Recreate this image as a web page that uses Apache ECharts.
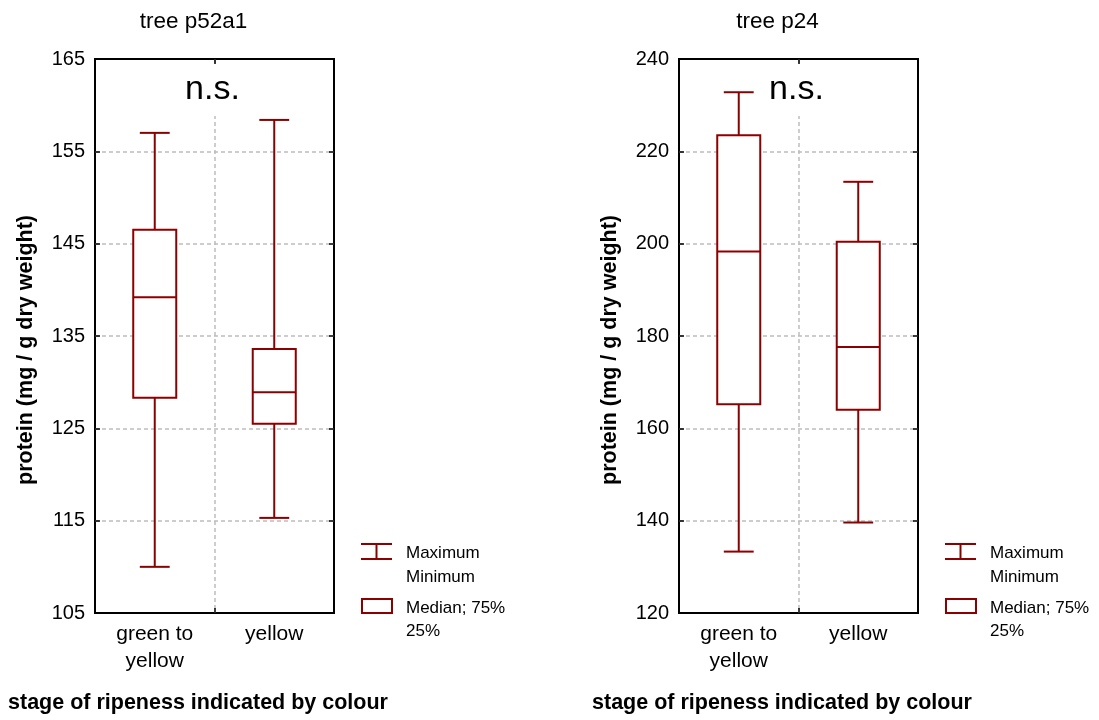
<!DOCTYPE html>
<html>
<head>
<meta charset="utf-8">
<script src="https://cdn.jsdelivr.net/npm/echarts@6/dist/echarts.min.js"></script>
<style>html,body{margin:0;padding:0;background:#fff}#c{width:1099px;height:720px}</style>
</head>
<body>
<div id="c"></div>
<script>
// ---- data ----
const categories = ['green to\nyellow', 'yellow'];
const panelTitles = ['tree p52a1', 'tree p24'];
// tree p52a1
const p52a1Min = [110.0, 115.3];
const p52a1Q1 = [128.3, 125.5];
const p52a1Median = [139.2, 128.9];
const p52a1Q3 = [146.5, 133.6];
const p52a1Max = [157.0, 158.4];
// tree p24
const p24Min = [133.3, 139.6];
const p24Q1 = [165.2, 164.0];
const p24Median = [198.3, 177.6];
const p24Q3 = [223.5, 200.4];
const p24Max = [232.8, 213.4];
// axis ticks
const p52a1Ticks = [105, 115, 125, 135, 145, 155, 165];
const p24Ticks = [120, 140, 160, 180, 200, 220, 240];
const yAxisTitle = 'protein (mg / g dry weight)';
const xAxisTitle = 'stage of ripeness indicated by colour';
const sigLabel = 'n.s.';
const legendLabels = ['Maximum', 'Minimum', 'Median; 75%', '25%'];

// ---- style ----
const RED = '#8b0000';
const FONT = "'Liberation Sans', Arial, sans-serif";
const GRID_W = 239, GRID_TOP = 59, GRID_H = 554;
const grids = [{left: 95}, {left: 679}];

function rows(mn, q1, md, q3, mx) {
  return categories.map((_, i) => [i, mn[i], q1[i], md[i], q3[i], mx[i]]);
}
const panelData = [
  rows(p52a1Min, p52a1Q1, p52a1Median, p52a1Q3, p52a1Max),
  rows(p24Min, p24Q1, p24Median, p24Q3, p24Max)
];
const panelTicks = [p52a1Ticks, p24Ticks];

function renderBox(params, api) {
  const c = api.value(0);
  const lo = api.coord([c, api.value(1)]);
  const q1 = api.coord([c, api.value(2)]);
  const md = api.coord([c, api.value(3)]);
  const q3 = api.coord([c, api.value(4)]);
  const hi = api.coord([c, api.value(5)]);
  const band = api.size([1, 0])[0];
  const x = lo[0];
  const bw = band * 0.18, cw = band * 0.125;
  const st = {stroke: RED, lineWidth: 2, fill: null};
  return {type: 'group', children: [
    {type: 'line', shape: {x1: x, y1: hi[1], x2: x, y2: q3[1]}, style: st},
    {type: 'line', shape: {x1: x, y1: q1[1], x2: x, y2: lo[1]}, style: st},
    {type: 'line', shape: {x1: x - cw, y1: hi[1], x2: x + cw, y2: hi[1]}, style: st},
    {type: 'line', shape: {x1: x - cw, y1: lo[1], x2: x + cw, y2: lo[1]}, style: st},
    {type: 'rect', shape: {x: x - bw, y: q3[1], width: 2 * bw, height: q1[1] - q3[1]}, style: {stroke: RED, lineWidth: 2, fill: '#fff'}},
    {type: 'line', shape: {x1: x - bw, y1: md[1], x2: x + bw, y2: md[1]}, style: st}
  ]};
}

const split = {show: true, showMinLine: false, showMaxLine: false,
  lineStyle: {color: '#bdbdbd', width: 1.5, type: [4, 3]}};

const option = {
  backgroundColor: '#fff',
  animation: false,
  grid: grids.map(g => ({left: g.left, top: GRID_TOP, width: GRID_W, height: GRID_H,
    show: true, borderColor: '#000', borderWidth: 2, backgroundColor: '#fff'})),
  xAxis: [],
  yAxis: [],
  series: [],
  graphic: []
};

grids.forEach((g, k) => {
  const t = panelTicks[k];
  const mn = t[0], mx = t[t.length - 1], iv = t[1] - t[0];
  option.xAxis.push({type: 'category', gridIndex: k, data: categories, position: 'bottom',
    axisLine: {show: false}, axisTick: {show: true, inside: true, length: 5, lineStyle: {color: '#000', width: 1.5}},
    axisLabel: {margin: 8, fontSize: 21, lineHeight: 27, color: '#000', fontFamily: FONT},
    splitLine: split});
  option.xAxis.push({type: 'category', gridIndex: k, data: categories, position: 'top',
    axisLine: {show: false}, axisTick: {show: true, inside: true, length: 5, lineStyle: {color: '#000', width: 1.5}},
    axisLabel: {show: false}, splitLine: {show: false}});
  option.yAxis.push({type: 'value', gridIndex: k, min: mn, max: mx, interval: iv, position: 'left',
    axisLine: {show: false}, axisTick: {show: true, inside: true, length: 5, lineStyle: {color: '#000', width: 1.5}},
    axisLabel: {margin: 10, fontSize: 20, color: '#000', fontFamily: FONT},
    splitLine: split});
  option.yAxis.push({type: 'value', gridIndex: k, min: mn, max: mx, interval: iv, position: 'right',
    axisLine: {show: false}, axisTick: {show: true, inside: true, length: 5, lineStyle: {color: '#000', width: 1.5}},
    axisLabel: {show: false}, splitLine: {show: false}});
  option.series.push({type: 'custom', xAxisIndex: 2 * k, yAxisIndex: 2 * k,
    renderItem: renderBox, encode: {x: 0, y: [1, 2, 3, 4, 5]}, data: panelData[k], z: 5});

  const L = g.left;
  const cx = L + GRID_W / 2;
  const txt = (x, y, text, size, weight, align, rot) => ({type: 'text', x, y, rotation: rot || 0, z: 100,
    style: {text, fontSize: size, fontWeight: weight || 'normal', fontFamily: FONT, fill: '#000',
      align: align || 'center', verticalAlign: 'middle'}});
  // cover the vertical gridline behind the significance label
  option.graphic.push({type: 'rect', z: 90, shape: {x: cx - 4, y: GRID_TOP + 6, width: 8, height: 51}, style: {fill: '#fff'}});
  option.graphic.push(txt(cx - 2, 90, sigLabel, 34));
  option.graphic.push(txt(cx - 21, 22, panelTitles[k], 22.5));
  option.graphic.push(txt(L - 69, 350, yAxisTitle, 21.5, 'bold', 'center', Math.PI / 2));
  option.graphic.push(txt(L + 103, 703, xAxisTitle, 21.5, 'bold'));
  // legend
  const lx = L + 266;
  const ls = {stroke: RED, lineWidth: 2};
  option.graphic.push({type: 'line', z: 100, shape: {x1: lx, y1: 544, x2: lx + 31, y2: 544}, style: ls});
  option.graphic.push({type: 'line', z: 100, shape: {x1: lx, y1: 559, x2: lx + 31, y2: 559}, style: ls});
  option.graphic.push({type: 'line', z: 100, shape: {x1: lx + 15.5, y1: 544, x2: lx + 15.5, y2: 559}, style: ls});
  option.graphic.push({type: 'rect', z: 100, shape: {x: lx + 1, y: 599, width: 30, height: 14}, style: {stroke: RED, lineWidth: 2, fill: '#fff'}});
  const tx = lx + 45;
  option.graphic.push(txt(tx, 553, legendLabels[0], 17, 'normal', 'left'));
  option.graphic.push(txt(tx, 577, legendLabels[1], 17, 'normal', 'left'));
  option.graphic.push(txt(tx, 608, legendLabels[2], 17, 'normal', 'left'));
  option.graphic.push(txt(tx, 631, legendLabels[3], 17, 'normal', 'left'));
});

const chart = echarts.init(document.getElementById('c'), null, {renderer: 'canvas'});
chart.setOption(option);
</script>
</body>
</html>
